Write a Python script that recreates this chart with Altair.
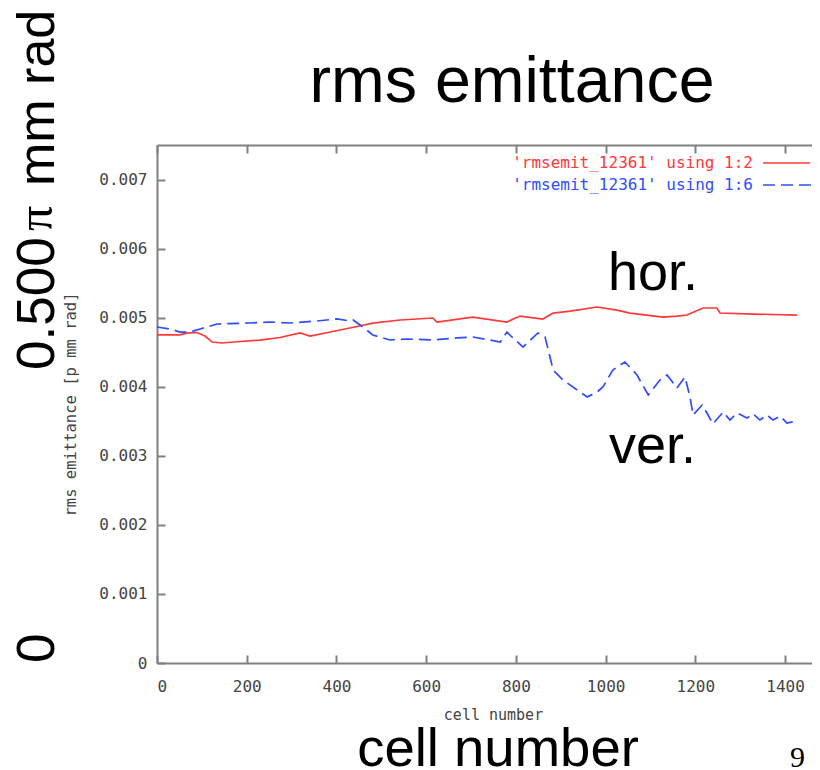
import altair as alt
import pandas as pd

# ---- data ----
cell_hor = [0, 51, 69, 89, 107, 123, 145, 185, 230, 274, 319, 341, 386, 430, 481, 542,
            615, 624, 704, 780, 809, 860, 883, 921, 981, 1025, 1054, 1128, 1159, 1181,
            1217, 1248, 1255, 1329, 1427]
emit_hor = [0.00475, 0.00475, 0.00478, 0.004785, 0.004734, 0.004647, 0.004633, 0.004655,
            0.004676, 0.004713, 0.004778, 0.004734, 0.004792, 0.00485, 0.004922, 0.004966,
            0.004995, 0.004937, 0.005009, 0.004937, 0.005023, 0.00498, 0.005067, 0.005096,
            0.005154, 0.00511, 0.005067, 0.005009, 0.005023, 0.005038, 0.00514, 0.00514,
            0.005067, 0.005052, 0.005038]

cell_ver = [0, 29, 51, 74, 96, 134, 207, 252, 296, 357, 401, 430, 437, 459, 481, 519, 557,
            615, 669, 704, 742, 765, 780, 791, 816, 849, 865, 883, 905, 959, 981, 994, 1016,
            1043, 1070, 1095, 1121, 1137, 1159, 1177, 1188, 1195, 1215, 1226, 1239, 1262,
            1277, 1293, 1315, 1329, 1344, 1360, 1373, 1389, 1404, 1427]
emit_ver = [0.004865, 0.004836, 0.004792, 0.004792, 0.004836, 0.004908, 0.004923, 0.004937,
            0.004923, 0.004952, 0.004981, 0.004952, 0.004966, 0.004865, 0.004749, 0.004677,
            0.004691, 0.004677, 0.004706, 0.00472, 0.004677, 0.004648, 0.004792, 0.00472,
            0.004575, 0.004778, 0.00472, 0.004242, 0.004097, 0.003851, 0.003924, 0.003996,
            0.004242, 0.004358, 0.00417, 0.00388, 0.004097, 0.00417, 0.003981, 0.004141,
            0.003851, 0.003591, 0.003735, 0.00362, 0.00346, 0.003634, 0.003518, 0.00362,
            0.003547, 0.003605, 0.003518, 0.003591, 0.003518, 0.003576, 0.003475, 0.003504]

x_ticks = [0, 200, 400, 600, 800, 1000, 1200, 1400]
y_ticks = [0, 0.001, 0.002, 0.003, 0.004, 0.005, 0.006, 0.007]
legend_labels = ["'rmsemit_12361' using 1:2", "'rmsemit_12361' using 1:6"]

# ---- styling ----
W, H = 655, 518
RED = "#ff3838"
BLUE = "#2f4dff"
AX = "#808080"
LBL = "#444444"
MONO = "DejaVu Sans Mono"
SANS = "Liberation Sans"
SERIF = "Liberation Serif"

xs = alt.Scale(domain=[0, 1460], nice=False, zero=False)
ys = alt.Scale(domain=[0, 0.0075], nice=False, zero=False)

hor_df = pd.DataFrame({"cell": cell_hor, "emit": emit_hor})
ver_df = pd.DataFrame({"cell": cell_ver, "emit": emit_ver})
tick_df = pd.DataFrame({"cell": x_ticks, "emit": y_ticks})

hor = alt.Chart(hor_df).mark_line(color=RED, strokeWidth=1.7).encode(
    x=alt.X("cell:Q", scale=xs, axis=alt.Axis(
        orient="bottom", values=x_ticks, format="d", grid=False, ticks=False, tickSize=0,
        domainColor=AX, domainWidth=2, labelFont=MONO, labelFontSize=16, labelColor=LBL,
        labelPadding=15, title="cell number", titleFont=MONO, titleFontSize=15,
        titleFontWeight="normal", titleColor=LBL, titlePadding=13, titleX=336)),
    y=alt.Y("emit:Q", scale=ys, axis=alt.Axis(
        orient="left", values=y_ticks, grid=False, ticks=False, tickSize=0,
        domainColor=AX, domainWidth=2, labelFont=MONO, labelFontSize=16, labelColor=LBL,
        labelPadding=10,
        labelExpr="datum.value === 0 ? '0' : format(datum.value, '.3f')",
        title="rms emittance [p mm rad]", titleFont=MONO, titleFontSize=15.5,
        titleFontWeight="normal", titleColor=LBL, titlePadding=20)),
)

ver = alt.Chart(ver_df).mark_line(color=BLUE, strokeWidth=1.7, strokeDash=[12, 6]).encode(
    x=alt.X("cell:Q", scale=xs, title=None, axis=alt.Axis(
        orient="top", offset=-H, values=x_ticks, grid=False, labels=False, domain=False,
        ticks=True, tickSize=8, tickColor=AX, tickWidth=2)),
    y=alt.Y("emit:Q", scale=ys, title=None, axis=alt.Axis(
        orient="right", offset=-W, values=y_ticks, grid=False, labels=False, domain=False,
        ticks=True, tickSize=8, tickColor=AX, tickWidth=2)),
)

topframe = alt.Chart(tick_df).mark_point(opacity=0).encode(
    x=alt.X("cell:Q", scale=xs, title=None, axis=alt.Axis(
        orient="bottom", offset=-H, values=x_ticks, grid=False, labels=False,
        domain=True, domainColor=AX, domainWidth=2,
        ticks=True, tickSize=8, tickColor=AX, tickWidth=2)),
    y=alt.Y("emit:Q", scale=ys, axis=None),
)

def txt(s, x, y, size, font, color="black", align="left", angle=0, baseline="alphabetic"):
    d = pd.DataFrame({"t": [s]})
    kw = dict(font=font, fontSize=size, color=color, align=align, baseline=baseline)
    if angle:
        kw["angle"] = angle
    return alt.Chart(d).mark_text(**kw).encode(
        text="t:N", x=alt.value(x), y=alt.value(y))

def seg(x1, x2, y, color, dash=None):
    d = pd.DataFrame({"k": [1]})
    kw = dict(color=color, strokeWidth=1.7)
    if dash:
        kw["strokeDash"] = dash
    return alt.Chart(d).mark_rule(**kw).encode(
        x=alt.value(x1), x2=alt.value(x2), y=alt.value(y))

legend = [
    txt(legend_labels[0], 596, 18, 16, MONO, RED, align="right", baseline="middle"),
    txt(legend_labels[1], 596, 40, 16, MONO, BLUE, align="right", baseline="middle"),
    seg(606, 653, 18, RED),
    seg(606, 655, 40, BLUE, [12, 6]),
]

slide = [
    txt("rms emittance", 355, -43, 64.5, SANS, align="center"),
    txt("hor.", 451, 145, 54, SANS),
    txt("ver.", 452, 318, 54, SANS),
    txt("cell number", 341, 621, 54.5, SANS, align="center"),
    txt("9", 633, 622, 30, SERIF),
    txt("0.500", -103, 225, 53, SANS, angle=270),
    txt("\u03c0", -105, 86, 50, SERIF, angle=270),
    txt("mm rad", -103, 41, 52, SANS, angle=270),
    txt("0", -103, 518, 53, SANS, angle=270),
]

chart = alt.layer(topframe, hor, ver, *legend, *slide).resolve_axis(
    x="independent", y="independent"
).properties(
    width=W, height=H,
    autosize=alt.AutoSizeParams(type="none"),
    padding={"left": 149, "top": 137, "right": 0, "bottom": 107},
    background="white",
).configure_view(stroke=None)

chart.save("out.html", embed_options={"renderer": "svg", "actions": False})
